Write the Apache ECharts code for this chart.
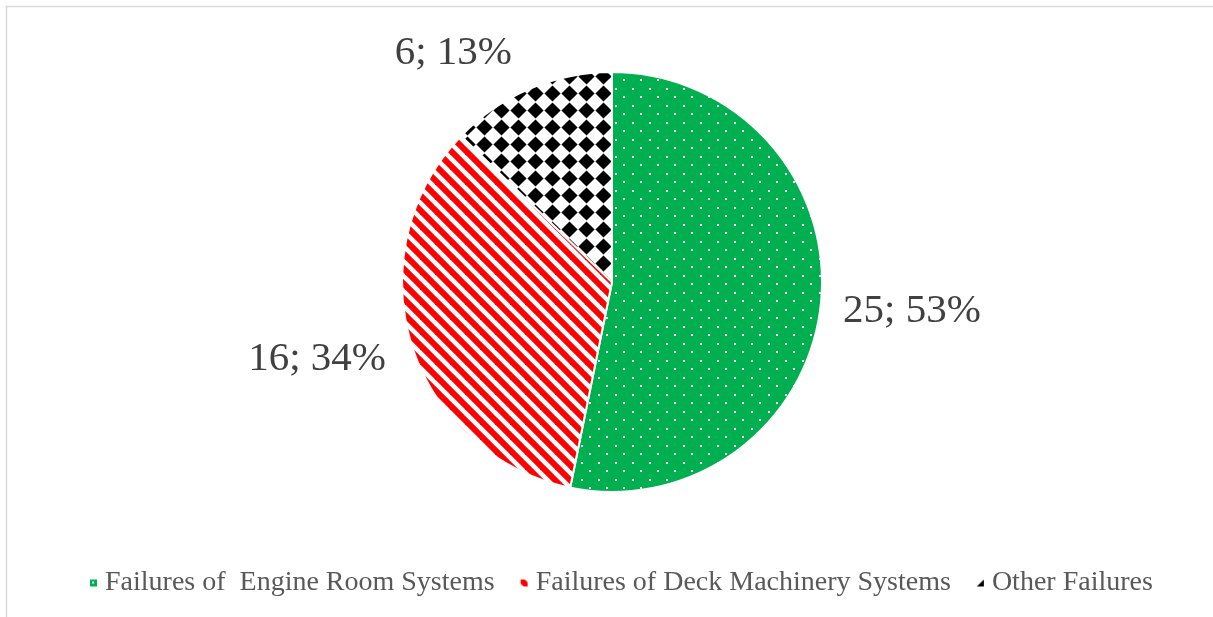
<!DOCTYPE html>
<html>
<head>
<meta charset="utf-8">
<script src="https://cdn.jsdelivr.net/npm/echarts@6/dist/echarts.min.js"></script>
<style>
html,body{margin:0;padding:0;background:#fff;}
#c{width:1213px;height:617px;}
</style>
</head>
<body>
<div id="c"></div>
<script>
const categories = ['Failures of  Engine Room Systems', 'Failures of Deck Machinery Systems', 'Other Failures'];
const counts = [25, 16, 6];

function tile(w, h, draw) {
  const cv = document.createElement('canvas');
  cv.width = w; cv.height = h;
  const ctx = cv.getContext('2d');
  draw(ctx, w, h);
  return cv;
}
const greenDots = tile(17, 17, (ctx, w, h) => {
  ctx.fillStyle = '#00b050'; ctx.fillRect(0, 0, w, h);
  ctx.fillStyle = '#ffffff';
  ctx.fillRect(3, 3, 2, 2);
  ctx.fillRect(11, 11, 2, 2);
});
const redStripes = tile(15, 15, (ctx, w, h) => {
  ctx.fillStyle = '#ffffff'; ctx.fillRect(0, 0, w, h);
  ctx.strokeStyle = '#ff0000'; ctx.lineWidth = 6;
  [-15, 0, 15].forEach(o => {
    ctx.beginPath(); ctx.moveTo(o - 3, -3); ctx.lineTo(o + 18, 18); ctx.stroke();
  });
});
const checker = tile(17, 17, (ctx, w, h) => {
  ctx.fillStyle = '#ffffff'; ctx.fillRect(0, 0, w, h);
  ctx.fillStyle = '#000000';
  ctx.beginPath();
  ctx.moveTo(8.5, 0.4); ctx.lineTo(16.6, 8.5); ctx.lineTo(8.5, 16.6); ctx.lineTo(0.4, 8.5);
  ctx.closePath(); ctx.fill();
});
const patterns = [greenDots, redStripes, checker];
const labelAnchors = [
  {x: 843, y: 311, align: 'left'},
  {x: 386, y: 359, align: 'right'},
  {x: 512, y: 53, align: 'right'}
];

const chart = echarts.init(document.getElementById('c'));
chart.setOption({
  animation: false,
  backgroundColor: '#ffffff',
  graphic: [{
    type: 'rect', z: -10, silent: true,
    shape: {x: 6.5, y: 6.5, width: 1230, height: 640},
    style: {fill: 'none', stroke: '#d9d9d9', lineWidth: 1.5}
  }],
  legend: {
    left: 83,
    top: 564,
    itemWidth: 9,
    itemHeight: 9,
    itemGap: 24,
    icon: 'rect',
    textStyle: {fontFamily: 'Liberation Serif', fontSize: 28, color: '#595959', padding: [0, 0, 0, 2]},
    data: categories
  },
  series: [{
    type: 'pie',
    center: [612, 282],
    radius: 210,
    startAngle: 90,
    clockwise: true,
    percentPrecision: 0,
    avoidLabelOverlap: false,
    itemStyle: {borderColor: '#ffffff', borderWidth: 2},
    label: {
      show: true,
      position: 'outside',
      formatter: '{c}; {d}%',
      fontFamily: 'Liberation Serif',
      fontSize: 41,
      color: '#404040'
    },
    labelLine: {show: false},
    labelLayout: function (p) {
      const a = labelAnchors[p.dataIndex];
      return {x: a.x, y: a.y, align: a.align, verticalAlign: 'middle'};
    },
    emphasis: {disabled: true},
    data: categories.map((name, i) => ({
      name: name,
      value: counts[i],
      itemStyle: {color: {image: patterns[i], repeat: 'repeat'}}
    }))
  }]
});
</script>
</body>
</html>
